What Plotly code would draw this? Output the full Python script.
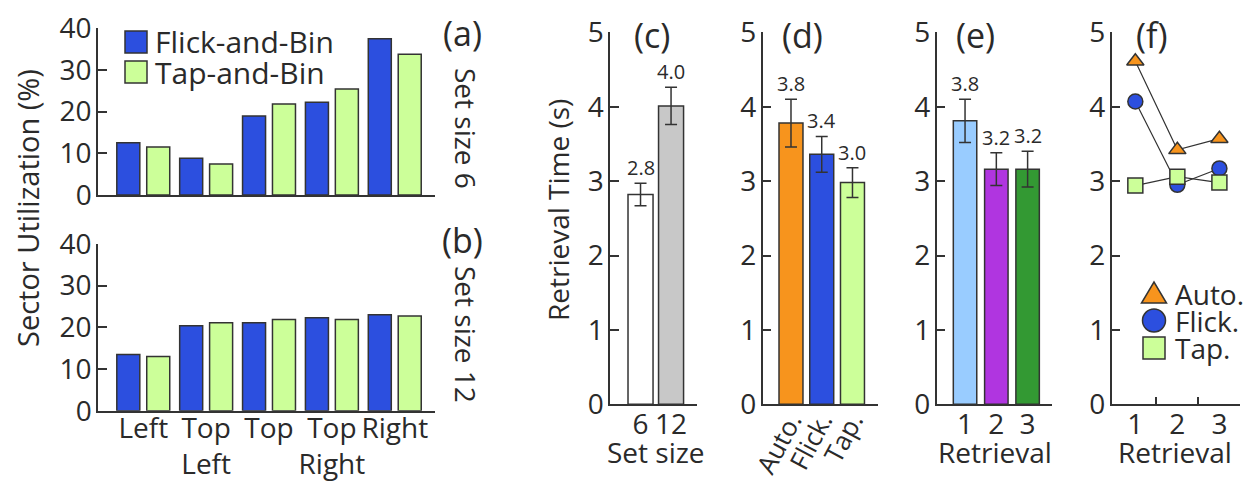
import plotly.graph_objects as go

W, H = 1253, 483

# ---------------- data ----------------
sectors = ["Left", "Top<br>Left", "Top", "Top<br>Right", "Right"]
flick_6 = [12.5, 8.8, 18.9, 22.2, 37.4]
tap_6 = [11.5, 7.4, 21.8, 25.4, 33.7]
flick_12 = [13.5, 20.4, 21.1, 22.3, 23.0]
tap_12 = [13.0, 21.1, 21.9, 21.9, 22.7]

set_sizes = ["6", "12"]
set_size_time = [2.82, 4.01]
set_size_err = [0.15, 0.25]

techniques = ["Auto.", "Flick.", "Tap."]
technique_time = [3.78, 3.36, 2.98]
technique_err = [0.32, 0.24, 0.20]

retrievals = ["1", "2", "3"]
retrieval_time = [3.81, 3.16, 3.16]
retrieval_err = [0.29, 0.22, 0.24]

auto_by_retrieval = [4.61, 3.42, 3.57]
flick_by_retrieval = [4.07, 2.95, 3.17]
tap_by_retrieval = [2.94, 3.06, 2.98]

# ---------------- style ----------------
FONT = "Open Sans"
INK = "#2a2a2a"
BLUE = "#2c4fdf"
LGREEN = "#ccff99"
ORANGE = "#f7941d"
GRAY = "#c8c8c8"
LBLUE = "#99ccff"
PURPLE = "#b035e0"
GREEN = "#339933"
EDGE = "#333333"
TICK = 28


def px(x):
    return x / W


def py(y):
    return 1 - y / H


fig = go.Figure()


def yaxis_style(domain, rng, tickvals, anchor):
    return dict(domain=domain, range=rng, tickvals=tickvals, showline=True,
                linecolor=EDGE, linewidth=1.5, ticks="inside", ticklen=9,
                tickwidth=1.5, tickcolor=EDGE, showgrid=False, zeroline=False,
                tickfont=dict(family=FONT, size=TICK, color=INK), anchor=anchor,
                fixedrange=True, automargin=False, ticklabelstandoff=-1,
                ticklabeloverflow="allow")


def xaxis_style(domain, rng, tickvals, ticktext, anchor, angle=0, standoff=-6, size=TICK):
    return dict(domain=domain, range=rng, tickvals=tickvals, ticktext=ticktext,
                showline=True, linecolor=EDGE, linewidth=1.5, ticks="",
                showgrid=False, zeroline=False, tickangle=angle,
                tickfont=dict(family=FONT, size=size, color=INK), anchor=anchor,
                fixedrange=True, automargin=False, ticklabelstandoff=standoff,
                ticklabeloverflow="allow")


bar_line = dict(color=EDGE, width=1.5)
BW = 0.366

# (a) and (b) sector utilization
for (fl, tp, xa, ya) in [(flick_6, tap_6, "x", "y"), (flick_12, tap_12, "x2", "y2")]:
    idx = list(range(len(sectors)))
    fig.add_trace(go.Bar(x=idx, y=fl, offset=-0.421, width=BW, marker=dict(color=BLUE, line=bar_line),
                         xaxis=xa, yaxis=ya, showlegend=False, name="Flick-and-Bin"))
    fig.add_trace(go.Bar(x=idx, y=tp, offset=0.055, width=BW, marker=dict(color=LGREEN, line=bar_line),
                         xaxis=xa, yaxis=ya, showlegend=False, name="Tap-and-Bin"))

err_style = dict(type="data", color=EDGE, thickness=1.5, width=6)

# (c)
fig.add_trace(go.Bar(x=list(range(len(set_sizes))), y=set_size_time, width=0.82,
                     marker=dict(color=["white", GRAY], line=bar_line),
                     error_y=dict(array=set_size_err, **err_style),
                     xaxis="x3", yaxis="y3", showlegend=False))
# (d)
fig.add_trace(go.Bar(x=list(range(len(techniques))), y=technique_time, width=0.78,
                     marker=dict(color=[ORANGE, BLUE, LGREEN], line=bar_line),
                     error_y=dict(array=technique_err, **err_style),
                     xaxis="x4", yaxis="y4", showlegend=False))
# (e)
fig.add_trace(go.Bar(x=list(range(len(retrievals))), y=retrieval_time, width=0.75,
                     marker=dict(color=[LBLUE, PURPLE, GREEN], line=bar_line),
                     error_y=dict(array=retrieval_err, **err_style),
                     xaxis="x5", yaxis="y5", showlegend=False))
# (f)
ret_x = [1, 2, 3]
for vals, sym, col in [(auto_by_retrieval, "triangle-up", ORANGE),
                       (flick_by_retrieval, "circle", BLUE),
                       (tap_by_retrieval, "square", LGREEN)]:
    fig.add_trace(go.Scatter(x=ret_x, y=vals, mode="lines+markers",
                             line=dict(color=EDGE, width=1.2),
                             marker=dict(symbol=sym, size=15, color=col,
                                         line=dict(color=EDGE, width=1.5)),
                             xaxis="x6", yaxis="y6", showlegend=False))

# value labels
ann = []
for xa, ya, vals, errs in [("x3", "y3", set_size_time, set_size_err),
                           ("x4", "y4", technique_time, technique_err),
                           ("x5", "y5", retrieval_time, retrieval_err)]:
    for i, (v, e) in enumerate(zip(vals, errs)):
        ann.append(dict(x=i, y=v + e, xref=xa, yref=ya, text=f"{v:.1f}",
                        showarrow=False, yanchor="bottom", yshift=0,
                        font=dict(family=FONT, size=20, color=INK)))

# axes layout
ydom_a = [py(195), py(28)]
ydom_b = [py(410.7), py(244)]
ydom_r = [py(404.3), py(32.3)]
fig.update_layout(
    xaxis=xaxis_style([px(98), px(435)], [-0.72, 4.64], list(range(5)), [""] * 5, "y"),
    yaxis=yaxis_style(ydom_a, [0, 40], [0, 10, 20, 30, 40], "x"),
    xaxis2=xaxis_style([px(98), px(435)], [-0.72, 4.64], list(range(5)), sectors, "y2", standoff=-8),
    yaxis2=yaxis_style(ydom_b, [0, 40], [0, 10, 20, 30, 40], "x2"),
    xaxis3=xaxis_style([px(610), px(697)], [-1.0, 1.85], list(range(2)), set_sizes, "y3"),
    yaxis3=yaxis_style(ydom_r, [0, 5], [0, 1, 2, 3, 4, 5], "x3"),
    xaxis4=xaxis_style([px(762.7), px(878)], [-0.92, 2.83], list(range(3)), techniques, "y4",
                       angle=-62, standoff=-11, size=26),
    yaxis4=yaxis_style(ydom_r, [0, 5], [0, 1, 2, 3, 4, 5], "x4"),
    xaxis5=xaxis_style([px(936.7), px(1051.7)], [-0.906, 2.77], list(range(3)), retrievals, "y5"),
    yaxis5=yaxis_style(ydom_r, [0, 5], [0, 1, 2, 3, 4, 5], "x5"),
    xaxis6=xaxis_style([px(1111.7), px(1240)], [0.438, 3.49], ret_x, retrievals, "y6"),
    yaxis6=yaxis_style(ydom_r, [0, 5], [0, 1, 2, 3, 4, 5], "x6"),
)
fig.layout.xaxis6.minor = dict(tickvals=[1.5, 2.5, 3.5], ticks="inside", ticklen=8,
                               tickwidth=1.5, tickcolor=EDGE)


def text_ann(x, y, text, size=TICK, angle=0, xanchor="center", yanchor="middle"):
    ann.append(dict(x=px(x), y=py(y), xref="paper", yref="paper", text=text,
                    showarrow=False, textangle=angle, xanchor=xanchor, yanchor=yanchor,
                    font=dict(family=FONT, size=size, color=INK)))


# panel labels
PL = 34
text_ann(462, 33, "(a)", PL)
text_ann(462, 240, "(b)", PL)
text_ann(652, 35, "(c)", PL)
text_ann(802, 35, "(d)", PL)
text_ann(975, 35, "(e)", PL)
text_ann(1152, 35, "(f)", PL)
# side labels
text_ann(466, 129, "Set size 6", TICK, angle=90)
text_ann(466, 335, "Set size 12", TICK, angle=90)
# axis titles
text_ann(27, 208, "Sector Utilization (%)", 29, angle=-90)
text_ann(558, 210, "Retrieval Time (s)", TICK, angle=-90)
text_ann(656, 452, "Set size", TICK)
text_ann(995, 452, "Retrieval", TICK)
text_ann(1175, 452, "Retrieval", TICK)

# legend (a)
shapes = []
for (yc, col, label) in [(42, BLUE, "Flick-and-Bin"), (72, LGREEN, "Tap-and-Bin")]:
    shapes.append(dict(type="rect", xref="paper", yref="paper", x0=px(125), x1=px(147),
                       y0=py(yc + 11), y1=py(yc - 11), fillcolor=col,
                       line=dict(color=EDGE, width=1.5)))
    text_ann(153, yc, label, 30, xanchor="left")

# legend (f)
cx = 1154
shapes.append(dict(type="path", xref="paper", yref="paper",
                   path=f"M {px(cx-12.5)},{py(303)} L {px(cx+12.5)},{py(303)} L {px(cx)},{py(282)} Z",
                   fillcolor=ORANGE, line=dict(color=EDGE, width=1.5)))
shapes.append(dict(type="circle", xref="paper", yref="paper", x0=px(cx - 11.5), x1=px(cx + 11.5),
                   y0=py(332), y1=py(309), fillcolor=BLUE, line=dict(color=EDGE, width=1.5)))
shapes.append(dict(type="rect", xref="paper", yref="paper", x0=px(cx - 11), x1=px(cx + 11),
                   y0=py(359), y1=py(337), fillcolor=LGREEN, line=dict(color=EDGE, width=1.5)))
text_ann(1173, 294, "Auto.", TICK, xanchor="left")
text_ann(1173, 321, "Flick.", TICK, xanchor="left")
text_ann(1173, 348, "Tap.", TICK, xanchor="left")

fig.update_layout(
    width=W, height=H, margin=dict(l=0, r=0, t=0, b=0),
    paper_bgcolor="white", plot_bgcolor="rgba(0,0,0,0)",
    barmode="overlay", annotations=ann, shapes=shapes, showlegend=False,
    font=dict(family=FONT, color=INK),
)

# remove the default page margin so the figure fills the window exactly
fig.write_html("out.html", config={"displayModeBar": False},
               post_script="document.body.style.margin='0px';document.body.style.overflow='hidden';")
